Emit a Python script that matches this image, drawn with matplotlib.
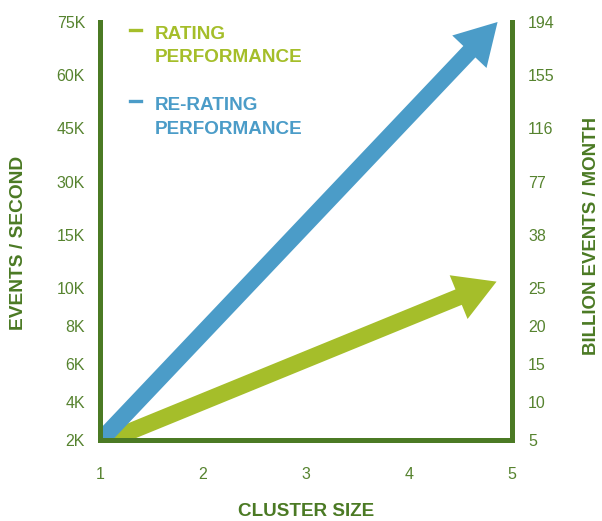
import numpy as np
import matplotlib
matplotlib.use("Agg")
import matplotlib.pyplot as plt
from matplotlib.patches import FancyArrowPatch, ArrowStyle
from matplotlib.lines import Line2D

plt.rcParams['font.family'] = ['Liberation Sans', 'DejaVu Sans']

# data
cluster_size = [1, 2, 3, 4, 5]
events_ticks = [2000, 4000, 6000, 8000, 10000, 15000, 30000, 45000, 60000, 75000]
events_labels = ['2K', '4K', '6K', '8K', '10K', '15K', '30K', '45K', '60K', '75K']
month_labels = ['5', '10', '15', '20', '25', '38', '77', '116', '155', '194']

# arrows: (cluster size, events/second) start and end
rating_x = [1.09, 4.85]
rating_y = [2000, 10600]
rerating_x = [1.01, 4.86]
rerating_y = [2000, 75000]

# label lines, x, y, colour, legend baseline (px)
series = [
    (['RATING', 'PERFORMANCE'], rating_x, rating_y, '#a5be2a', 39),
    (['RE-RATING', 'PERFORMANCE'], rerating_x, rerating_y, '#4b9cc8', 110),
]

DARK = '#4b7a24'
TICK = '#56832f'

# uneven spacing of the event ticks (lower ticks closer together)
tick_pos = [0, 1, 2, 3, 4, 5.4, 6.8, 8.2, 9.6, 11.0]
xp = np.array([-1e6] + events_ticks + [1e7], dtype=float)
fp = np.array([(-1e6 - 2000) / 2000.0] + tick_pos + [11.0 + (1e7 - 75000) * 1.4 / 15000], dtype=float)

def forward(v):
    return np.interp(v, xp, fp)

def inverse(p):
    return np.interp(p, fp, xp)

W, H = 602, 521
fig = plt.figure(figsize=(W / 100, H / 100), dpi=100)
ax = fig.add_axes([100 / W, 1 - 440 / H, 412 / W, 418 / H])
ax.set_yscale('function', functions=(forward, inverse))
ax.set_xlim(cluster_size[0], cluster_size[-1])
ax.set_ylim(events_ticks[0], events_ticks[-1])
ax.set_xticks(cluster_size)
ax.set_yticks(events_ticks, labels=events_labels)
ax.minorticks_off()

ax2 = ax.twinx()
ax2.set_yscale('function', functions=(forward, inverse))
ax2.set_ylim(events_ticks[0], events_ticks[-1])
ax2.set_yticks(events_ticks, labels=month_labels)
ax2.minorticks_off()

for a in (ax, ax2):
    a.spines['top'].set_visible(False)
    for s in ('left', 'right', 'bottom'):
        a.spines[s].set_color(DARK)
        a.spines[s].set_linewidth(3.6)
        a.spines[s].set_capstyle('projecting')
    a.patch.set_visible(False)

ax.tick_params(axis='y', length=0, pad=10.8, labelsize=11.5, labelcolor=TICK)
ax.tick_params(axis='x', length=0, pad=19.5, labelsize=11.5, labelcolor=TICK)
ax2.tick_params(axis='y', length=0, pad=11.5, labelsize=11.5, labelcolor=TICK)

style = ArrowStyle.Simple(head_length=29.5, head_width=34, tail_width=12)
for lines, xs, ys, col, base in series:
    arr = FancyArrowPatch((xs[0], ys[0]), (xs[1], ys[1]), arrowstyle=style,
                          mutation_scale=1, shrinkA=0, shrinkB=0,
                          color=col, lw=0, transform=ax.transData, zorder=1)
    ax.add_patch(arr)
    # legend drawn by hand, dash next to the first line
    for i, line in enumerate(lines):
        fig.text(155 / W, 1 - (base + 23.5 * i) / H, line, color=col,
                 fontsize=13.6, fontweight='bold', ha='left', va='baseline')
    fig.add_artist(Line2D([130 / W, 141 / W], [1 - (base - 9) / H] * 2, color=col, lw=2.4))

fig.text(19 / W, 1 - 243 / H, 'EVENTS / SECOND', rotation=90, color=DARK,
         fontsize=13.8, fontweight='bold', ha='center', va='center')
fig.text(592 / W, 1 - 236 / H, 'BILLION EVENTS / MONTH', rotation=90, color=DARK,
         fontsize=13.4, fontweight='bold', ha='center', va='center')
fig.text(306 / W, 1 - 512 / H, 'CLUSTER SIZE', color=DARK,
         fontsize=13.6, fontweight='bold', ha='center', va='center')

fig.savefig('out.png', dpi=100)
